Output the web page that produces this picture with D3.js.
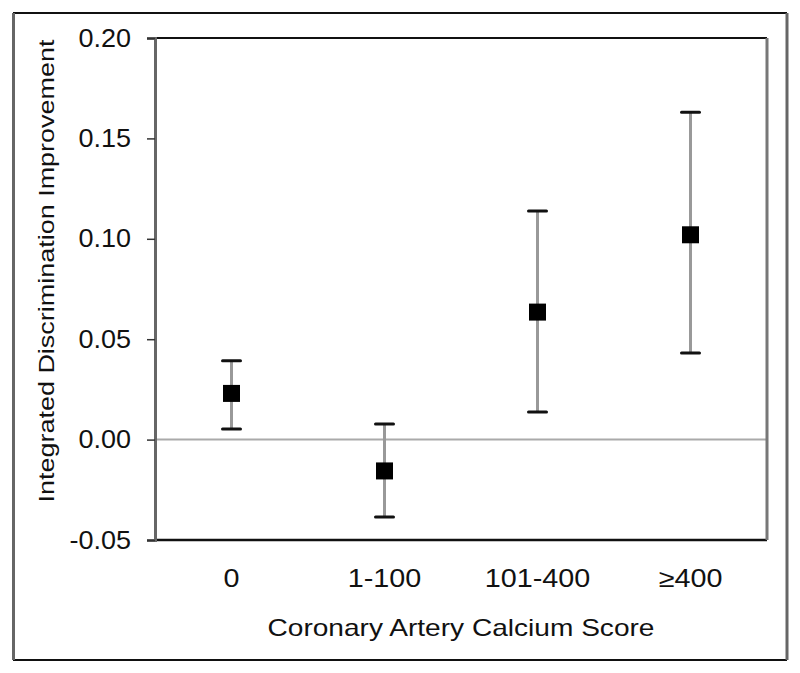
<!DOCTYPE html>
<html>
<head>
<meta charset="utf-8">
<script src="https://cdn.jsdelivr.net/npm/d3@7"></script>
<style>
  body { margin: 0; background: #fff; }
  svg { display: block; font-family: "Liberation Sans", Arial, sans-serif; }
</style>
</head>
<body>
<svg width="800" height="673"></svg>
<script>
var categories = ["0", "1-100", "101-400", "\u2265400"];
var estimates = [0.023, -0.0156, 0.0635, 0.102];
var lower = [0.0053, -0.0385, 0.0137, 0.0431];
var upper = [0.0393, 0.0078, 0.1138, 0.163];
var yTicks = [-0.05, 0, 0.05, 0.10, 0.15, 0.20];

var svg = d3.select("svg"),
    margin = {top: 38, right: 33, bottom: 133, left: 155},
    width = 800 - margin.left - margin.right,
    height = 673 - margin.top - margin.bottom,
    g = svg.append("g").attr("transform", "translate(" + margin.left + "," + margin.top + ")");

var data = categories.map(function(c, i) {
  return {cat: c, est: estimates[i], lo: lower[i], hi: upper[i]};
});

// the scanned figure's text is a bit wider than the font, so stretch it
function widen(sel, k) {
  sel.each(function() {
    var len = this.getComputedTextLength();
    d3.select(this).attr("textLength", len * k).attr("lengthAdjust", "spacingAndGlyphs");
  });
}

// outer frame
svg.append("line").attr("x1", 13).attr("y1", 13).attr("x2", 787).attr("y2", 13)
    .attr("stroke", "#111").attr("stroke-width", 2);
svg.append("line").attr("x1", 13).attr("y1", 660).attr("x2", 787).attr("y2", 660)
    .attr("stroke", "#111").attr("stroke-width", 2);
svg.append("line").attr("x1", 13.5).attr("y1", 13).attr("x2", 13.5).attr("y2", 660)
    .attr("stroke", "#666").attr("stroke-width", 3);
svg.append("line").attr("x1", 787).attr("y1", 13).attr("x2", 787).attr("y2", 660)
    .attr("stroke", "#666").attr("stroke-width", 3);

var x = d3.scaleBand().domain(categories).range([0, width]),
    y = d3.scaleLinear().domain([-0.05, 0.20]).range([height, 0]);

// zero reference line
g.append("line")
    .attr("x1", 0).attr("x2", width)
    .attr("y1", y(0)).attr("y2", y(0))
    .attr("stroke", "#aaa").attr("stroke-width", 2);

// plot frame
g.append("line").attr("x1", 0).attr("x2", width).attr("y1", 0).attr("y2", 0)
    .attr("stroke", "#111").attr("stroke-width", 2);
g.append("line").attr("x1", 0).attr("x2", width).attr("y1", height).attr("y2", height)
    .attr("stroke", "#111").attr("stroke-width", 2.5);
g.append("line").attr("x1", width).attr("x2", width).attr("y1", 0).attr("y2", height)
    .attr("stroke", "#777").attr("stroke-width", 3);

// y axis
var yAxis = g.append("g")
    .call(d3.axisLeft(y).tickValues(yTicks).tickSize(8).tickPadding(16)
      .tickFormat(function(d) { return d3.format(".2f")(d).replace("\u2212", "-"); }));
yAxis.select(".domain").attr("stroke", "#666").attr("stroke-width", 3);
yAxis.selectAll(".tick line").attr("stroke", "#333").attr("stroke-width", 1.5);
yAxis.selectAll("text").attr("font-size", 25).attr("fill", "#111")
    .attr("font-family", "Liberation Sans, Arial, sans-serif")
    .call(widen, 1.08);

// x labels
var xAxis = g.append("g")
    .attr("transform", "translate(0," + height + ")")
    .call(d3.axisBottom(x).tickSize(0).tickPadding(29));
xAxis.select(".domain").remove();
xAxis.selectAll("text").attr("font-size", 25).attr("fill", "#111")
    .attr("font-family", "Liberation Sans, Arial, sans-serif")
    .call(widen, 1.15);

// axis titles
svg.append("text")
    .attr("x", margin.left + width / 2)
    .attr("y", 636)
    .attr("text-anchor", "middle")
    .attr("font-size", 24)
    .attr("fill", "#111")
    .text("Coronary Artery Calcium Score")
    .attr("textLength", 387)
    .attr("lengthAdjust", "spacingAndGlyphs");

svg.append("text")
    .attr("transform", "translate(54,271) rotate(-90)")
    .attr("text-anchor", "middle")
    .attr("font-size", 22)
    .attr("fill", "#111")
    .text("Integrated Discrimination Improvement")
    .attr("textLength", 463)
    .attr("lengthAdjust", "spacingAndGlyphs");

// error bars
var pt = g.selectAll(".pt").data(data).enter().append("g").attr("class", "pt")
    .attr("transform", function(d) { return "translate(" + (x(d.cat) + x.bandwidth() / 2) + ",0)"; });

pt.append("line")
    .attr("y1", function(d) { return y(d.lo); })
    .attr("y2", function(d) { return y(d.hi); })
    .attr("stroke", "#999").attr("stroke-width", 3);

pt.selectAll(".cap").data(function(d) { return [d.lo, d.hi]; }).enter().append("line")
    .attr("class", "cap")
    .attr("x1", -9).attr("x2", 9)
    .attr("y1", function(v) { return y(v); })
    .attr("y2", function(v) { return y(v); })
    .attr("stroke", "#111").attr("stroke-width", 3).attr("stroke-linecap", "round");

pt.append("rect")
    .attr("x", -8.5).attr("width", 17)
    .attr("y", function(d) { return y(d.est) - 8.5; })
    .attr("height", 17)
    .attr("fill", "#000");
</script>
</body>
</html>
